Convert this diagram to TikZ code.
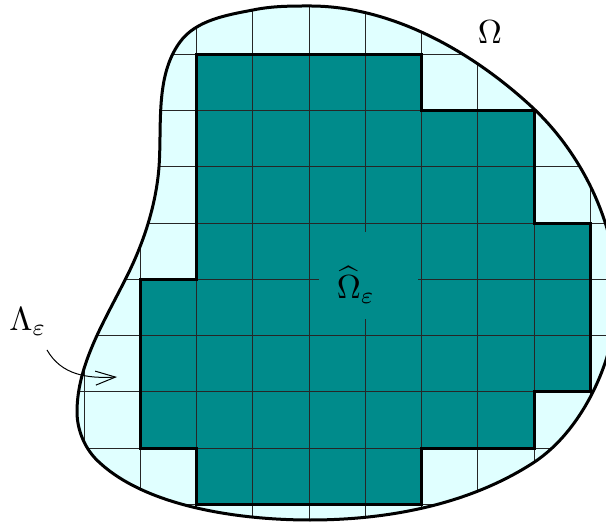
\documentclass[tikz,border=0pt]{standalone}
\usetikzlibrary{arrows.meta}
\definecolor{cellin}{RGB}{0,139,139}
\definecolor{cellout}{RGB}{224,255,255}
\tikzset{
  gridline/.style={line width=0.3pt, draw=black!85},
  outline/.style={line width=0.9pt, draw=black, line join=round},
  pointer/.style={line width=0.3pt, -{Straight Barb[length=6pt,width=4.2pt]}},
  lbl/.style={inner sep=1pt, font=\normalsize}
}
\def\blobpath{(310,6) .. controls (392,6) and (473,52) .. (533,108)
 .. controls (583,155) and (617,226) .. (617,295)
 .. controls (617,356) and (584,430) .. (533,463)
 .. controls (468,505) and (387,520) .. (310,520)
 .. controls (240,520) and (148,507) .. (100,463)
 .. controls (85,450) and (77,430) .. (77,412)
 .. controls (77,365) and (104,322) .. (125,280)
 .. controls (143,245) and (156,206) .. (159,167)
 .. controls (162,125) and (155,76) .. (180,42)
 .. controls (196,20) and (227,15) .. (253,10)
 .. controls (272,6) and (291,6) .. (310,6) -- cycle}
\begin{document}
\begin{tikzpicture}[x=0.3pt, y=-0.3pt]
\useasboundingbox (0,0) rectangle (606,524);
% domain fill
\fill[cellout] \blobpath;
% inner cells
\begin{scope}[shift={(140.4,54.3)}, x=16.875pt, y=-16.875pt]
  \fill[cellin] (1,0) -- (5,0) -- (5,1) -- (7,1) -- (7,3) -- (8,3) -- (8,6)
    -- (7,6) -- (7,7) -- (5,7) -- (5,8) -- (1,8) -- (1,7) -- (0,7) -- (0,4)
    -- (1,4) -- cycle;
\end{scope}
% grid clipped to the domain
\begin{scope}
  \clip \blobpath;
  \begin{scope}[shift={(140.4,54.3)}, x=16.875pt, y=-16.875pt]
    \foreach \i in {-2,...,9} \draw[gridline] (\i,-2) -- (\i,10);
    \foreach \j in {-2,...,9} \draw[gridline] (-2,\j) -- (10,\j);
  \end{scope}
\end{scope}
% mask behind the inner label
\fill[cellin] (319,232) rectangle (418,319);
% outline of the inner cells
\begin{scope}[shift={(140.4,54.3)}, x=16.875pt, y=-16.875pt]
  \draw[outline, line join=miter] (1,0) -- (5,0) -- (5,1) -- (7,1) -- (7,3) -- (8,3) -- (8,6)
    -- (7,6) -- (7,7) -- (5,7) -- (5,8) -- (1,8) -- (1,7) -- (0,7) -- (0,4)
    -- (1,4) -- cycle;
\end{scope}
% domain boundary
\draw[outline] \blobpath;
% labels
\node[lbl] (omhat) at (356,285) {$\widehat{\Omega}_\varepsilon$};
\node[lbl] (om) at (490,32) {$\Omega$};
\node[lbl] (lam) at (28,322) {$\Lambda_\varepsilon$};
\coordinate (arrS) at (47,350);
\coordinate (arrE) at (117,377);
\draw[pointer] (arrS) to[out=-60, in=183] (arrE);
\end{tikzpicture}
\end{document}
